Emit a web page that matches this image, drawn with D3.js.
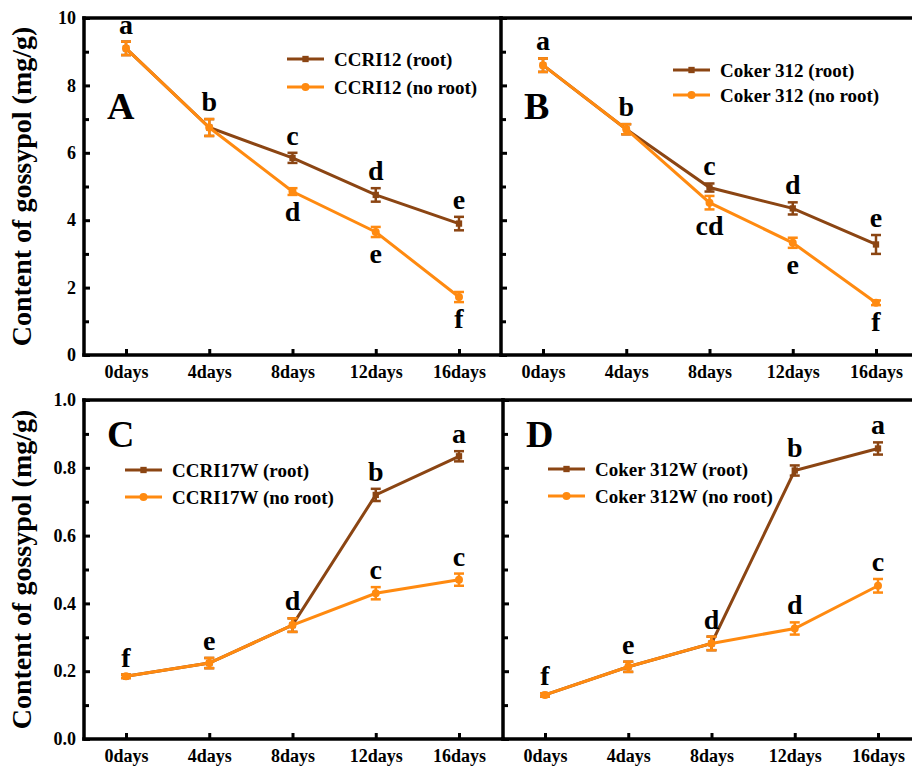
<!DOCTYPE html>
<html>
<head>
<meta charset="utf-8">
<script src="https://cdn.jsdelivr.net/npm/d3@7"></script>
<style>
  body { margin: 0; background: #fff; }
  svg text { font-family: "Liberation Serif", "Times New Roman", serif; font-weight: bold; }
</style>
</head>
<body>
<svg id="chart"></svg>
<script>
// Chart size
const width = 912;
const height = 769;

const rootColor = "#8B4513";
const noRootColor = "#FF8A10";

// Shared categories
const days = ["0days", "4days", "8days", "12days", "16days"];

// Panel A - CCRI12
const aRoot = [9.1, 6.75, 5.85, 4.75, 3.9];
const aRootErr = [0.2, 0.25, 0.15, 0.2, 0.2];
const aNoRoot = [9.1, 6.75, 4.85, 3.65, 1.72];
const aNoRootErr = [0.2, 0.25, 0.1, 0.15, 0.15];
const aRootLetters = ["a", "b", "c", "d", "e"];
const aNoRootLetters = [null, null, "d", "e", "f"];

// Panel B - Coker 312
const bRoot = [8.6, 6.7, 4.97, 4.35, 3.28];
const bRootErr = [0.2, 0.15, 0.12, 0.18, 0.28];
const bNoRoot = [8.6, 6.7, 4.52, 3.33, 1.55];
const bNoRootErr = [0.2, 0.15, 0.2, 0.15, 0.07];
const bRootLetters = ["a", "b", "c", "d", "e"];
const bNoRootLetters = [null, null, "cd", "e", "f"];

// Panel C - CCRI17W
const cRoot = [0.185, 0.224, 0.336, 0.72, 0.834];
const cRootErr = [0.005, 0.015, 0.02, 0.018, 0.015];
const cNoRoot = [0.185, 0.224, 0.336, 0.43, 0.47];
const cNoRootErr = [0.005, 0.015, 0.02, 0.018, 0.018];
const cRootLetters = [null, null, null, "b", "a"];
const cNoRootLetters = ["f", "e", "d", "c", "c"];

// Panel D - Coker 312W
const dRoot = [0.13, 0.213, 0.282, 0.792, 0.857];
const dRootErr = [0.005, 0.015, 0.02, 0.015, 0.018];
const dNoRoot = [0.13, 0.213, 0.282, 0.326, 0.452];
const dNoRootErr = [0.005, 0.015, 0.02, 0.018, 0.02];
const dRootLetters = [null, null, null, "b", "a"];
const dNoRootLetters = ["f", "e", "d", "d", "c"];

// Axis ticks
const upperTicks = [0, 2, 4, 6, 8, 10];
const upperMinor = [1, 3, 5, 7, 9];
const lowerTicks = [0, 0.2, 0.4, 0.6, 0.8, 1.0];
const lowerMinor = [0.1, 0.3, 0.5, 0.7, 0.9];

const yTitle = "Content of gossypol (mg/g)";

// Panel layout
const panels = [
  { id: "A", x0: 84, x1: 501, top: 18, bottom: 355, max: 10, ticks: upperTicks, minor: upperMinor, fmt: d3.format("d"), labels: true,
    root: aRoot, rootErr: aRootErr, noRoot: aNoRoot, noRootErr: aNoRootErr,
    rootLetters: aRootLetters, noRootLetters: aNoRootLetters, noRootPos: "below",
    rootName: "CCRI12 (root)", noRootName: "CCRI12 (no root)", legend: [203, 41, 28] },
  { id: "B", x0: 501, x1: 912, top: 18, bottom: 355, max: 10, ticks: upperTicks, minor: upperMinor, fmt: d3.format("d"), labels: false,
    root: bRoot, rootErr: bRootErr, noRoot: bNoRoot, noRootErr: bNoRootErr,
    rootLetters: bRootLetters, noRootLetters: bNoRootLetters, noRootPos: "below",
    rootName: "Coker 312 (root)", noRootName: "Coker 312 (no root)", legend: [172, 52, 25] },
  { id: "C", x0: 84, x1: 503, top: 400, bottom: 739, max: 1, ticks: lowerTicks, minor: lowerMinor, fmt: d3.format(".1f"), labels: true,
    root: cRoot, rootErr: cRootErr, noRoot: cNoRoot, noRootErr: cNoRootErr,
    rootLetters: cRootLetters, noRootLetters: cNoRootLetters, noRootPos: "above",
    rootName: "CCRI17W (root)", noRootName: "CCRI17W (no root)", legend: [41, 70, 27] },
  { id: "D", x0: 503, x1: 912, top: 400, bottom: 739, max: 1, ticks: lowerTicks, minor: lowerMinor, fmt: d3.format(".1f"), labels: false,
    root: dRoot, rootErr: dRootErr, noRoot: dNoRoot, noRootErr: dNoRootErr,
    rootLetters: dRootLetters, noRootLetters: dNoRootLetters, noRootPos: "above",
    rootName: "Coker 312W (root)", noRootName: "Coker 312W (no root)", legend: [45, 69, 27] }
];

const svg = d3.select("#chart")
  .attr("width", width)
  .attr("height", height);

panels.forEach(p => {
  const g = svg.append("g");

  const x = d3.scalePoint()
    .domain(days)
    .range([p.x0 + 42, p.x0 + 375]);

  const y = d3.scaleLinear()
    .domain([0, p.max])
    .range([p.bottom, p.top]);

  // x axis ticks (inward)
  const xAxis = g.append("g")
    .attr("transform", `translate(0,${p.bottom})`)
    .call(d3.axisBottom(x).tickSizeInner(-6).tickSizeOuter(0).tickPadding(10));
  xAxis.select(".domain").remove();
  xAxis.selectAll("line").attr("stroke-width", 3);
  xAxis.selectAll("text")
    .attr("font-size", 18)
    .attr("fill", "#000");

  // y axis ticks (inward)
  const yAxis = g.append("g")
    .attr("transform", `translate(${p.x0},0)`)
    .call(d3.axisLeft(y).tickValues(p.ticks).tickFormat(p.labels ? p.fmt : "")
      .tickSizeInner(-6).tickSizeOuter(0).tickPadding(8));
  yAxis.select(".domain").remove();
  yAxis.selectAll("line").attr("stroke-width", 3);
  yAxis.selectAll("text")
    .attr("font-size", 18)
    .attr("fill", "#000");

  const yMinor = g.append("g")
    .attr("transform", `translate(${p.x0},0)`)
    .call(d3.axisLeft(y).tickValues(p.minor).tickFormat("").tickSizeInner(-5).tickSizeOuter(0));
  yMinor.select(".domain").remove();
  yMinor.selectAll("line").attr("stroke-width", 3);

  // frame
  const frame = [
    [p.x0, p.top, p.x1, p.top],
    [p.x0, p.bottom, p.x1, p.bottom],
    [p.x0, p.top, p.x0, p.bottom]
  ];
  g.selectAll(".frame")
    .data(frame)
    .enter()
    .append("line")
    .attr("x1", d => d[0]).attr("y1", d => d[1])
    .attr("x2", d => d[2]).attr("y2", d => d[3])
    .attr("stroke", "#000")
    .attr("stroke-width", 3.5)
    .attr("stroke-linecap", "square");

  // series
  const series = [
    { values: p.root, err: p.rootErr, color: rootColor, shape: "square", letters: p.rootLetters, pos: "above" },
    { values: p.noRoot, err: p.noRootErr, color: noRootColor, shape: "circle", letters: p.noRootLetters, pos: p.noRootPos }
  ];

  series.forEach(s => {
    const pts = days.map((d, i) => ({ day: d, v: s.values[i], e: s.err[i], letter: s.letters[i] }));

    const line = d3.line()
      .x(d => x(d.day))
      .y(d => y(d.v));

    g.append("path")
      .datum(pts)
      .attr("d", line)
      .attr("fill", "none")
      .attr("stroke", s.color)
      .attr("stroke-width", 3);

    // error bars
    const eb = g.selectAll(null)
      .data(pts)
      .enter()
      .append("g")
      .attr("stroke", s.color)
      .attr("stroke-width", 2.5);
    eb.append("line")
      .attr("x1", d => x(d.day)).attr("x2", d => x(d.day))
      .attr("y1", d => y(d.v - d.e)).attr("y2", d => y(d.v + d.e));
    eb.append("line")
      .attr("x1", d => x(d.day) - 5).attr("x2", d => x(d.day) + 5)
      .attr("y1", d => y(d.v + d.e)).attr("y2", d => y(d.v + d.e));
    eb.append("line")
      .attr("x1", d => x(d.day) - 5).attr("x2", d => x(d.day) + 5)
      .attr("y1", d => y(d.v - d.e)).attr("y2", d => y(d.v - d.e));

    // markers
    const sym = d3.symbol().type(s.shape === "square" ? d3.symbolSquare : d3.symbolCircle).size(s.shape === "square" ? 40 : 50);
    g.selectAll(null)
      .data(pts)
      .enter()
      .append("path")
      .attr("d", sym)
      .attr("transform", d => `translate(${x(d.day)},${y(d.v)})`)
      .attr("fill", s.color);

    // significance letters
    g.selectAll(null)
      .data(pts.filter(d => d.letter))
      .enter()
      .append("text")
      .attr("x", d => x(d.day))
      .attr("y", d => s.pos === "above" ? y(d.v + d.e) - 8 : y(d.v - d.e) + 26)
      .attr("text-anchor", "middle")
      .attr("font-size", 28)
      .attr("fill", "#000")
      .text(d => d.letter);
  });

  // panel letter
  g.append("text")
    .attr("x", p.x0 + 23)
    .attr("y", p.id === "A" || p.id === "B" ? 119 : 447)
    .attr("font-size", 38)
    .attr("fill", "#000")
    .text(p.id);

  // legend
  const [lx, ly, gap] = p.legend;
  const items = [
    { name: p.rootName, color: rootColor, shape: "square" },
    { name: p.noRootName, color: noRootColor, shape: "circle" }
  ];
  const leg = g.selectAll(".leg")
    .data(items)
    .enter()
    .append("g")
    .attr("transform", (d, i) => `translate(${p.x0 + lx},${p.top + ly + i * gap})`);
  leg.append("line")
    .attr("x1", 0).attr("x2", 37)
    .attr("stroke", d => d.color)
    .attr("stroke-width", 3);
  leg.append("path")
    .attr("d", d => d3.symbol().type(d.shape === "square" ? d3.symbolSquare : d3.symbolCircle).size(d.shape === "square" ? 40 : 50)())
    .attr("transform", "translate(18.5,0)")
    .attr("fill", d => d.color);
  leg.append("text")
    .attr("x", 47)
    .attr("dy", "0.35em")
    .attr("font-size", 19)
    .attr("fill", "#000")
    .text(d => d.name);

  // y title on left panels
  if (p.labels) {
    g.append("text")
      .attr("transform", `translate(31,${(p.top + p.bottom) / 2}) rotate(-90)`)
      .attr("text-anchor", "middle")
      .attr("font-size", 28)
      .attr("fill", "#000")
      .text(yTitle);
  }
});
</script>
</body>
</html>
